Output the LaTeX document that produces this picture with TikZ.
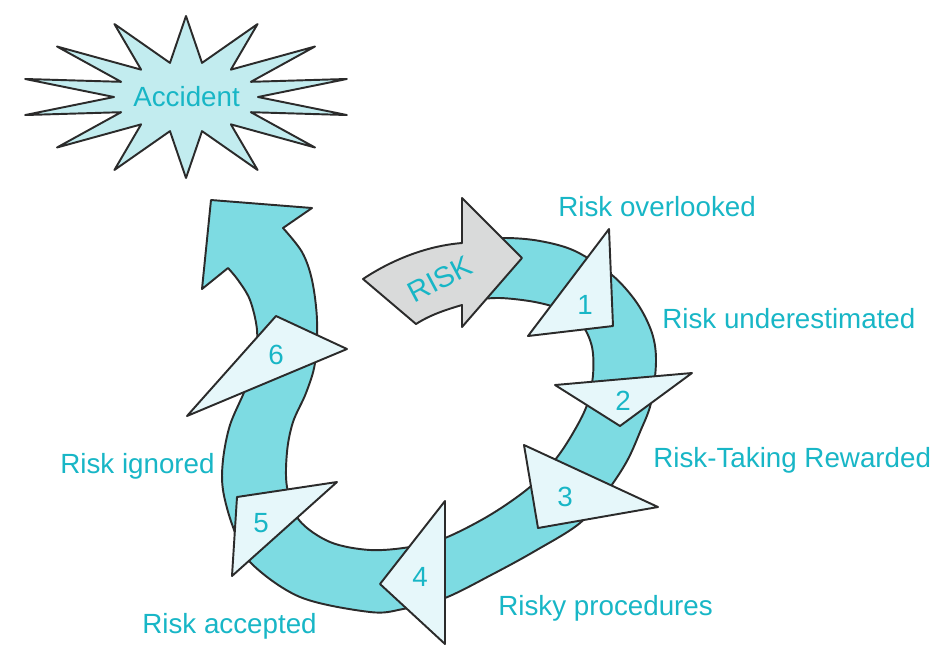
\documentclass[tikz,border=0pt]{standalone}
\usepackage{fontspec}
\setmainfont{Liberation Sans}
\begin{document}
\begin{tikzpicture}[
    x=0.02cm, y=-0.02cm,
    font=\fontsize{15.8}{19}\selectfont,
    outline/.style={draw=edgegray, line width=1.1pt, line join=round},
    burst/.style={outline, fill=burstcyan},
    band/.style={outline, fill=ringcyan},
    riskarrow/.style={outline, fill=arrowgray},
    stagetri/.style={outline, fill=tripale},
    steplabel/.style={text=textcyan, inner sep=0pt, anchor=base west},
    stagenum/.style={text=textcyan, inner sep=0pt, anchor=base}
]
\definecolor{textcyan}{RGB}{24,182,198}
\definecolor{ringcyan}{RGB}{125,219,226}
\definecolor{burstcyan}{RGB}{194,236,239}
\definecolor{tripale}{RGB}{230,247,250}
\definecolor{arrowgray}{RGB}{217,218,218}
\definecolor{edgegray}{RGB}{43,43,43}

\useasboundingbox (0,0) rectangle (943,664);

\begin{scope}[shift={(186,97)}]
\draw[burst] (90:165 and 81) \foreach \k in {0,...,13} {
    -- ({102.857+\k*25.714}:72 and 35) -- ({115.714+\k*25.714}:165 and 81)} -- cycle;
\end{scope}
\node[steplabel] (accident) at (133,106) {Accident};

\draw[band] plot[smooth, tension=0.55] coordinates {
    (470,241) (505,238) (540,241) (575,251) (612,275) (637,303) (652,333)
    (656,362) (651,403) (640,432) (627,461) (608,490) (580,523) (535,551)
    (493,574) (445,598) (403,609) (370,612) (300,597) (250,562) (233,527)
    (223,490) (223,460) (230,425) (245,390) (255,360) (257,330) (250,300)
    (238,280) (228,268)}
  -- (202,289) -- (211,200) -- (312,208)
  -- plot[smooth, tension=0.55] coordinates {
    (283,228) (302,252) (312,280) (317,320) (315,363) (306,393) (293,422)
    (287,452) (287,487) (299,520) (330,542) (370,550) (410,547) (445,538)
    (490,515) (530,487) (555,460) (573,433) (587,405) (593,375) (592,347)
    (582,325) (562,310) (535,302) (500,298) (470,300)}
  -- cycle;

\draw[riskarrow] (363,279) .. controls (390,261) and (425,246) .. (462,243)
  -- (462,198) -- (522,258) -- (462,327) -- (462,305)
  .. controls (445,310) and (430,315) .. (416,324) -- cycle;
\node[text=textcyan, rotate=28, font=\fontsize{16.5}{19}\selectfont] (risk) at (440,279) {RISK};

\draw[stagetri] (609,229) -- (613,326) -- (528,336) -- cycle;
\draw[stagetri] (555,385) -- (692,373) -- (620,426) -- cycle;
\draw[stagetri] (524,445) -- (658,507) -- (538,528) -- cycle;
\draw[stagetri] (445,501) -- (445,644) -- (380,584) -- cycle;
\draw[stagetri] (237,497) -- (337,482) -- (232,576) -- cycle;
\draw[stagetri] (276,316) -- (347,349) -- (187,416) -- cycle;

\node[stagenum] (n1) at (585,314) {1};
\node[stagenum] (n2) at (623,410) {2};
\node[stagenum] (n3) at (565,506) {3};
\node[stagenum] (n4) at (420,586) {4};
\node[stagenum] (n5) at (261,532) {5};
\node[stagenum] (n6) at (276,364) {6};

\node[steplabel] (overlooked) at (558,216) {Risk overlooked};
\node[steplabel] (underest) at (662,328) {Risk underestimated};
\node[steplabel] (rewarded) at (653,467) {Risk-Taking Rewarded};
\node[steplabel] (procedures) at (498,615) {Risky procedures};
\node[steplabel] (accepted) at (142,633) {Risk accepted};
\node[steplabel] (ignored) at (60,473) {Risk ignored};
\end{tikzpicture}
\end{document}
